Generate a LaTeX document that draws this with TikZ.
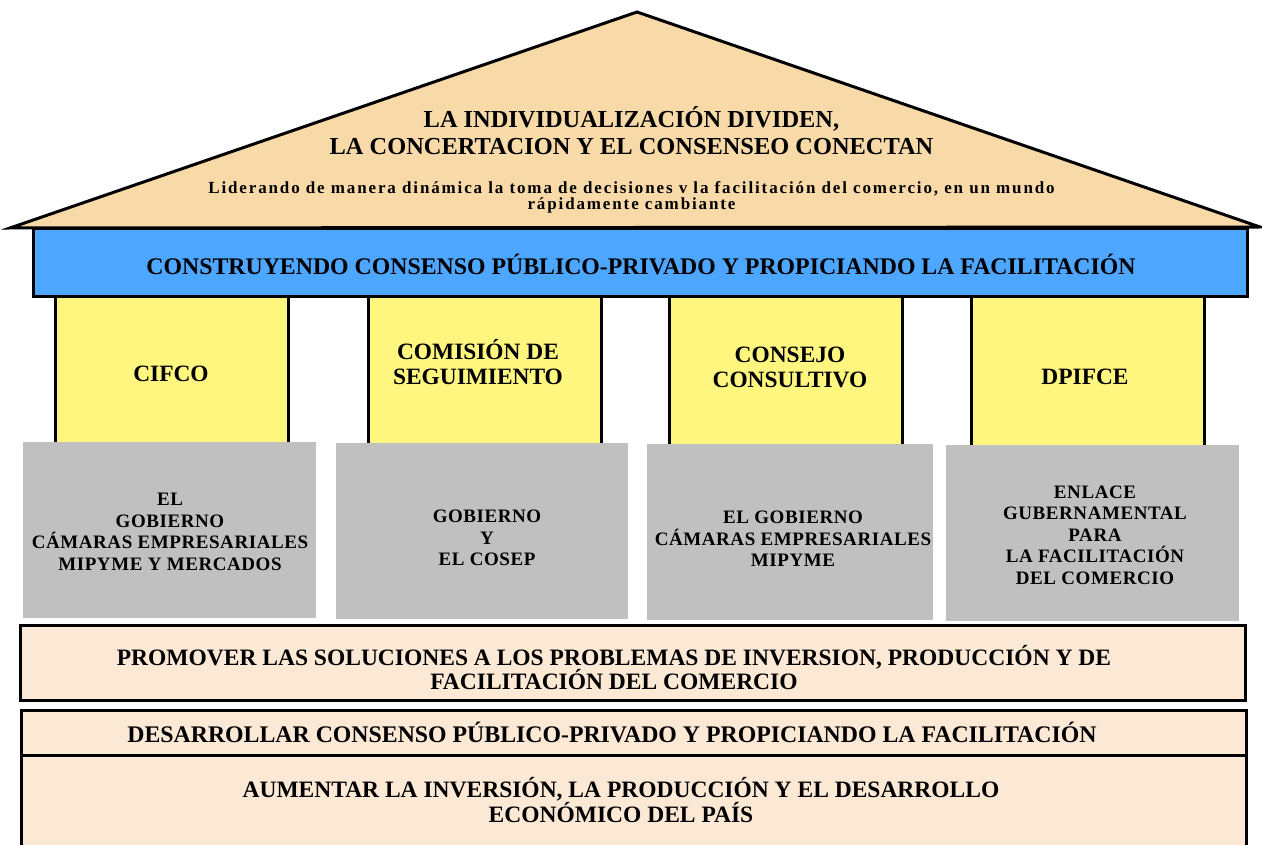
\documentclass[tikz,border=0pt]{standalone}
\usepackage{fontspec}
\setmainfont{Liberation Serif}
\definecolor{techo}{HTML}{F8D9A8}
\definecolor{azul}{HTML}{4DA6FF}
\definecolor{amarillo}{HTML}{FFF67F}
\definecolor{gris}{HTML}{C0C0C0}
\definecolor{crema}{HTML}{FCE9D5}
\tikzset{
  marco/.style={draw=black,line width=3pt,inner sep=0pt},
  pilar/.style={marco,fill=amarillo,minimum width=233pt,minimum height=153pt},
  bloque/.style={fill=gris,inner sep=0pt,minimum height=176pt},
  franja/.style={marco,fill=crema,minimum width=1225pt},
  rotulo/.style={align=center,inner sep=0pt,font=\bfseries\fontsize{23.4}{25}\selectfont},
  letrero/.style={rotulo,font=\bfseries\fontsize{19}{21.5}\selectfont\addfontfeatures{LetterSpace=3}}
}
\begin{document}
\begin{tikzpicture}[x=1pt,y=-1pt]
\useasboundingbox (0,0) rectangle (1262,845);
\draw[line width=3pt,fill=techo] (10,228) -- (637,12) -- (1260,227) -- cycle;
\node[marco,fill=azul,minimum width=1214pt,minimum height=68pt] (consenso) at (640,263) {};
\node[pilar] (cifco) at (171.5,373.5) {};
\node[pilar] (comision) at (484.5,373.5) {};
\node[pilar] (consejo) at (785.5,373.5) {};
\node[pilar] (dpifce) at (1087.5,373.5) {};
\node[bloque,minimum width=293pt] (actores1) at (169.5,530) {};
\node[bloque,minimum width=292pt] (actores2) at (482,531) {};
\node[bloque,minimum width=286pt] (actores3) at (790,531.5) {};
\node[bloque,minimum width=293pt] (actores4) at (1092.5,532.5) {};
\node[franja,minimum height=75pt] (promover) at (633,662.5) {};
\node[franja,minimum height=45pt] (desarrollar) at (634,732.5) {};
\node[franja,minimum height=93pt] (aumentar) at (634,801.5) {};
\node[rotulo,font=\bfseries\fontsize{24.4}{27}\selectfont] (lema) at (631.5,131)
  {LA INDIVIDUALIZACIÓN DIVIDEN,\\LA CONCERTACION Y EL CONSENSEO CONECTAN};
\node[rotulo,font=\bfseries\fontsize{17}{16}\selectfont\addfontfeatures{LetterSpace=11}] (mision) at (631.5,197)
  {Liderando de manera dinámica la toma de decisiones v la facilitación del comercio, en un mundo\\rápidamente cambiante};
\node[rotulo,font=\bfseries\fontsize{23.8}{25}\selectfont] (lema2) at (641,264) {CONSTRUYENDO CONSENSO PÚBLICO-PRIVADO Y PROPICIANDO LA FACILITACIÓN};
\node[rotulo] (t1) at (171,374) {CIFCO};
\node[rotulo] (t2) at (478,362) {COMISIÓN DE\\SEGUIMIENTO};
\node[rotulo] (t3) at (790,367) {CONSEJO\\CONSULTIVO};
\node[rotulo] (t4) at (1085,377) {DPIFCE};
\node[letrero] (g1) at (170,532) {EL\\GOBIERNO\\CÁMARAS EMPRESARIALES\\MIPYME Y MERCADOS};
\node[letrero] (g2) at (487,538) {GOBIERNO\\Y\\EL COSEP};
\node[letrero] (g3) at (793,539) {EL GOBIERNO\\CÁMARAS EMPRESARIALES\\MIPYME};
\node[letrero] (g4) at (1095,535) {ENLACE\\GUBERNAMENTAL\\PARA\\LA FACILITACIÓN\\DEL COMERCIO};
\node[rotulo,font=\bfseries\fontsize{23.5}{24}\selectfont] (b1) at (614,668)
  {PROMOVER LAS SOLUCIONES A LOS PROBLEMAS DE INVERSION, PRODUCCIÓN Y DE\\FACILITACIÓN DEL COMERCIO};
\node[rotulo,font=\bfseries\fontsize{23.8}{24}\selectfont] (b2) at (612,732)
  {DESARROLLAR CONSENSO PÚBLICO-PRIVADO Y PROPICIANDO LA FACILITACIÓN};
\node[rotulo,font=\bfseries\fontsize{23.5}{25}\selectfont] (b3) at (621,800)
  {AUMENTAR LA INVERSIÓN, LA PRODUCCIÓN Y EL DESARROLLO\\ECONÓMICO DEL PAÍS};
\end{tikzpicture}
\end{document}
